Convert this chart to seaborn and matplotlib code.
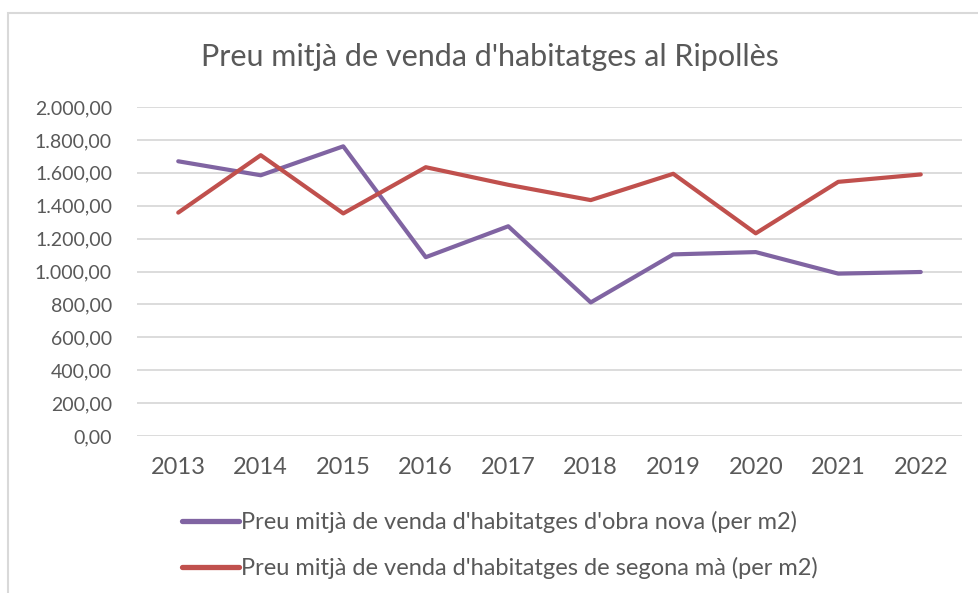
import seaborn as sns
import matplotlib.pyplot as plt
import matplotlib.ticker as mticker
import pandas as pd

# Data
years = ['2013', '2014', '2015', '2016', '2017', '2018', '2019', '2020', '2021', '2022']
obra_nova = [1670, 1585, 1761, 1087, 1275, 812, 1104, 1118, 987, 997]
segona_ma = [1358, 1707, 1353, 1634, 1527, 1434, 1594, 1232, 1545, 1590]

label_nova = "Preu mitjà de venda d'habitatges d'obra nova (per m2)"
label_segona = "Preu mitjà de venda d'habitatges de segona mà (per m2)"

df = pd.DataFrame({
    'Any': years * 2,
    'Preu': obra_nova + segona_ma,
    'Serie': [label_nova] * len(years) + [label_segona] * len(years),
})

sns.set_theme(style='white')
plt.rcParams['font.family'] = ['Lato', 'DejaVu Sans']

fig = plt.figure(figsize=(9.79, 5.93), dpi=100)
ax = fig.add_axes([137 / 979, 157 / 593, 825 / 979, 329 / 593])

sns.lineplot(data=df, x='Any', y='Preu', hue='Serie',
             palette=['#8064A2', '#C0504D'], linewidth=3.0, ax=ax, legend=False)

ax.set_xlim(-0.5, len(years) - 0.5)
ax.set_ylim(0, 2000)
ax.yaxis.set_major_locator(mticker.MultipleLocator(200))


def fmt(v, pos):
    s = f'{v:,.2f}'
    return s.replace(',', 'X').replace('.', ',').replace('X', '.')


ax.yaxis.set_major_formatter(mticker.FuncFormatter(fmt))
ax.grid(axis='y', color='#D9D9D9', linewidth=1.3)
ax.set_axisbelow(True)
for sp in ax.spines.values():
    sp.set_visible(False)
ax.tick_params(axis='both', length=0, colors='#595959')
ax.tick_params(axis='x', labelsize=17, pad=15)
ax.tick_params(axis='y', labelsize=14, pad=18)
ax.set_xlabel('')
ax.set_ylabel('')

fig.text(0.5, 1 - 57 / 593, "Preu mitjà de venda d'habitatges al Ripollès",
         ha='center', va='center', fontsize=22, color='#595959')

handles = [plt.Line2D([], [], color='#8064A2', linewidth=3.8),
           plt.Line2D([], [], color='#C0504D', linewidth=3.8)]
leg = fig.legend(handles, [label_nova, label_segona], loc='center',
                 bbox_to_anchor=(500 / 979, 1 - 545 / 593), frameon=False,
                 fontsize=17, handlelength=2.4, handletextpad=0.1,
                 labelspacing=1.0, labelcolor='#595959')

border = plt.Rectangle((8 / 979, -0.05), 1.1, 1 - 13 / 593 + 0.05,
                       transform=fig.transFigure, fill=False,
                       edgecolor='#D9D9D9', linewidth=1.5)
fig.patches.append(border)

fig.savefig('out.png', dpi=100)
